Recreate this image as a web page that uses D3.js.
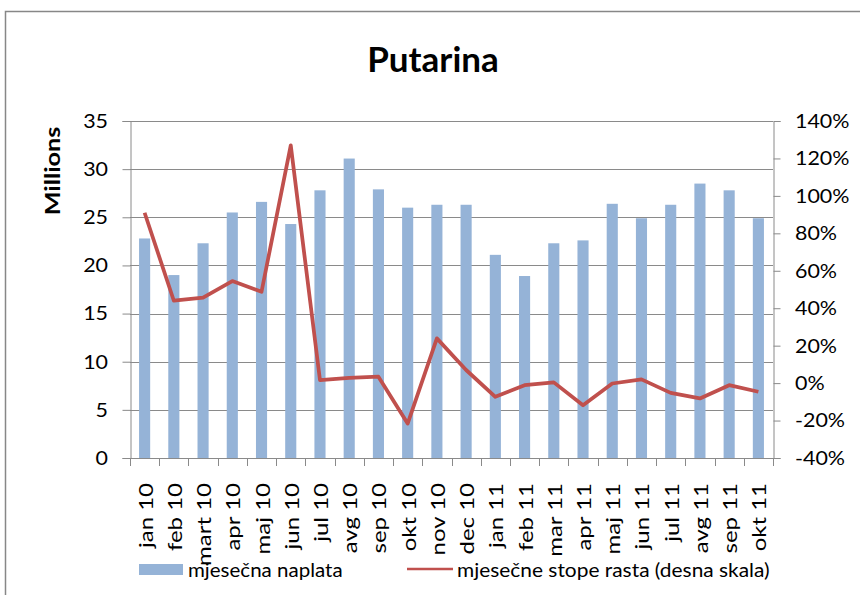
<!DOCTYPE html>
<html>
<head>
<meta charset="utf-8">
<script src="https://cdn.jsdelivr.net/npm/d3@7"></script>
<style>
  html, body { margin: 0; padding: 0; background: #fff; }
  svg { display: block; }
  text { font-family: Lato, "Open Sans", sans-serif; fill: #000; }
</style>
</head>
<body>
<svg id="chart" width="860" height="595"></svg>
<script>
const categories = ["jan 10","feb 10","mart 10","apr 10","maj 10","jun 10","jul 10","avg 10","sep 10","okt 10","nov 10","dec 10",
  "jan 11","feb 11","mar 11","apr 11","maj 11","jun 11","jul 11","avg 11","sep 11","okt 11"];
const naplata = [22.8, 19.0, 22.3, 25.5, 26.6, 24.3, 27.8, 31.1, 27.9, 26.0, 26.3, 26.3,
  21.1, 18.9, 22.3, 22.6, 26.4, 24.9, 26.3, 28.5, 27.8, 24.9];
const stope = [0.91, 0.44, 0.456, 0.545, 0.488, 1.27, 0.016, 0.028, 0.034, -0.216, 0.239, 0.07,
  -0.073, -0.011, 0.004, -0.118, -0.002, 0.02, -0.052, -0.082, -0.011, -0.046];
const leftTicks = [0, 5, 10, 15, 20, 25, 30, 35];
const rightTicks = [-0.4, -0.2, 0, 0.2, 0.4, 0.6, 0.8, 1.0, 1.2, 1.4];
const title = "Putarina";
const leftAxisTitle = "Millions";
const legendLabels = ["mjesečna naplata", "mjesečne stope rasta (desna skala)"];

const svg = d3.select("#chart");
const L = 130, R = 773, T = 121, B = 458;
const gridColor = "#8a8a8a";
const fmtL = d3.format("d");
const fmtR = d => d3.format(".0%")(d).replace("\u2212", "-");

// frame
svg.append("path").attr("d", `M5.5,${595}V11.5H860`).attr("fill", "none").attr("stroke", "#878787").attr("stroke-width", 1.5);

const x = d3.scaleBand().domain(categories).range([L, R]).padding(0);
const y = d3.scaleLinear().domain([0, 35]).range([B, T]);
const y2 = d3.scaleLinear().domain([-0.4, 1.4]).range([B, T]);

// gridlines
svg.append("g").selectAll("line").data(leftTicks.slice(1)).join("line")
  .attr("x1", L).attr("x2", R)
  .attr("y1", d => Math.round(y(d)) + 0.5).attr("y2", d => Math.round(y(d)) + 0.5)
  .attr("stroke", gridColor).attr("stroke-width", 1);

// bars
const bw = x.bandwidth() * 0.38;
svg.append("g").selectAll("rect").data(naplata).join("rect")
  .attr("x", (d, i) => x(categories[i]) + x.bandwidth() / 2 - bw / 2)
  .attr("width", bw)
  .attr("y", d => y(d))
  .attr("height", d => B - y(d))
  .attr("fill", "#95b3d7");

// line
const line = d3.line()
  .x((d, i) => x(categories[i]) + x.bandwidth() / 2)
  .y(d => y2(d));
svg.append("path").datum(stope).attr("d", line)
  .attr("fill", "none").attr("stroke", "#c0504d").attr("stroke-width", 3.75)
  .attr("stroke-linejoin", "round");

// left axis
const ga = svg.append("g").attr("transform", `translate(${L + 0.5},0)`)
  .call(d3.axisLeft(y).tickValues(leftTicks).tickSize(8).tickFormat(""));
ga.select(".domain").attr("stroke", gridColor);
ga.selectAll(".tick line").attr("stroke", gridColor);
svg.append("g").selectAll("text").data(leftTicks).join("text")
  .attr("transform", d => `translate(108,${y(d)}) scale(1.1,1)`)
  .attr("text-anchor", "end").attr("dy", "0.35em")
  .attr("font-size", 19.5).text(d => fmtL(d));

// right axis
const gr = svg.append("g").attr("transform", `translate(${R + 0.5},0)`)
  .call(d3.axisRight(y2).tickValues(rightTicks).tickSize(7).tickFormat(""));
gr.select(".domain").attr("stroke", gridColor);
gr.selectAll(".tick line").attr("stroke", gridColor);
svg.append("g").selectAll("text").data(rightTicks).join("text")
  .attr("transform", d => `translate(795,${y2(d)}) scale(1.1,1)`)
  .attr("text-anchor", "start").attr("dy", "0.35em")
  .attr("font-size", 19.5).text(d => fmtR(d));

// x axis
svg.append("line").attr("x1", L).attr("x2", R).attr("y1", B + 0.5).attr("y2", B + 0.5).attr("stroke", gridColor);
const bounds = categories.map(c => x(c)).concat([R]);
svg.append("g").selectAll("line").data(bounds).join("line")
  .attr("x1", d => Math.round(d) + 0.5).attr("x2", d => Math.round(d) + 0.5)
  .attr("y1", B).attr("y2", B + 8).attr("stroke", gridColor);
svg.append("g").selectAll("text").data(categories).join("text")
  .attr("transform", d => `translate(${x(d) + x.bandwidth() / 2 + 8},483) rotate(-90) scale(1.2,1)`)
  .attr("text-anchor", "end")
  .attr("font-size", 20)
  .text(d => d);

// title
svg.append("text").attr("x", 433).attr("y", 72).attr("text-anchor", "middle")
  .attr("font-size", 35).attr("font-weight", "bold").text(title);

// left axis title
svg.append("text").attr("transform", "translate(60,171) rotate(-90) scale(1.2,1)").attr("text-anchor", "middle")
  .attr("font-size", 21).attr("font-weight", "bold").text(leftAxisTitle);

// legend
svg.append("rect").attr("x", 139).attr("y", 564).attr("width", 44).attr("height", 11).attr("fill", "#95b3d7");
svg.append("text").attr("transform", "translate(188,577) scale(1.08,1)").attr("font-size", 19).text(legendLabels[0]);
svg.append("line").attr("x1", 407).attr("x2", 453).attr("y1", 569).attr("y2", 569).attr("stroke", "#c0504d").attr("stroke-width", 2.5);
svg.append("text").attr("transform", "translate(457,577) scale(1.1,1)").attr("font-size", 19).text(legendLabels[1]);
</script>
</body>
</html>
